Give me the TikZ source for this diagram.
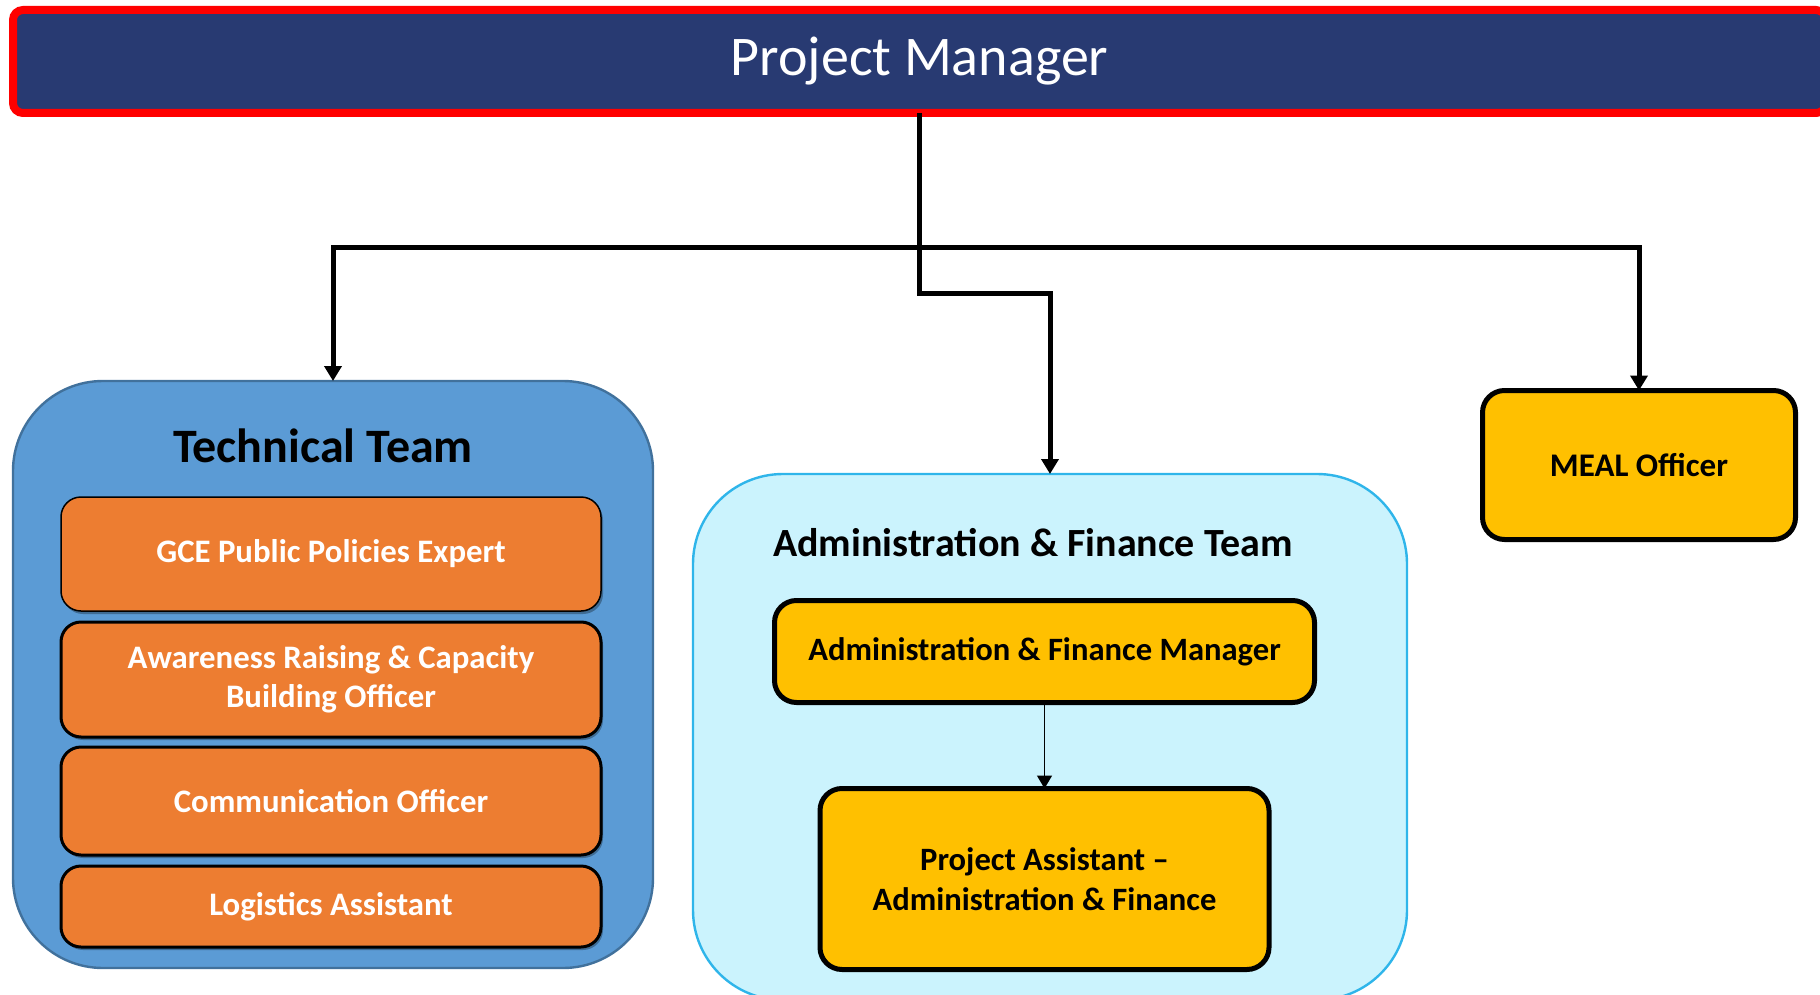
\documentclass[tikz,border=0pt]{standalone}
\usepackage{fontspec}
\setmainfont{Carlito}
\usepackage{tikz}
\usetikzlibrary{positioning, arrows.meta, shadows}

\definecolor{pmblue}{HTML}{283A72}
\definecolor{pmred}{HTML}{FF0000}
\definecolor{techblue}{HTML}{5B9BD5}
\definecolor{techline}{HTML}{41719C}
\definecolor{roleorange}{HTML}{ED7D31}
\definecolor{gold}{HTML}{FFC000}
\definecolor{adminfill}{HTML}{CBF3FD}
\definecolor{adminline}{HTML}{2FB5EA}

\begin{document}
\begin{tikzpicture}[x=0.5pt, y=-0.5pt,
    every node/.style={inner sep=0pt, outer sep=0pt, align=center},
    team/.style={rounded corners=45pt, line width=1.2pt},
    teamtitle/.style={anchor=base, font=\bfseries\fontsize{24}{28}\selectfont},
    role/.style={draw=black, fill=roleorange, rounded corners=10pt, line width=1.5pt,
        minimum width=270pt, text=white, font=\bfseries\fontsize{16.4}{19.75}\selectfont,
        drop shadow={shadow xshift=1pt, shadow yshift=-1.5pt, fill=black, opacity=0.3}},
    officer/.style={draw=black, fill=gold, rounded corners=11pt, line width=2.5pt,
        font=\bfseries\fontsize{16.3}{20}\selectfont},
    link/.style={line width=2.5pt},
    tip/.style={line width=2.5pt, -{Triangle[width=8.5pt,length=7.5pt]}},
    thintip/.style={line width=0.75pt, -{Triangle[width=7.5pt,length=6.5pt]}}]

    \useasboundingbox (0,0) rectangle (1820,995);

    \node[draw=pmred, fill=pmblue, line width=4pt, rounded corners=5pt,
        minimum width=906.5pt, minimum height=51.5pt, text=white,
        font=\fontsize{28}{34}\selectfont] (pm) at (919.5,61.5) {Project Manager};

    % technical team
    \node[team, fill=techblue, draw=techline, minimum width=320pt, minimum height=293.5pt] (tech) at (333,674.5) {};
    \node[teamtitle] (techtitle) at (323,462) {Technical Team};
    \node[role, line width=0.75pt, minimum height=57pt] (gce) at (331,554) {GCE Public Policies Expert};
    \node[role, minimum height=57.5pt, below=5.5pt of gce] (arcb) {Awareness Raising \& Capacity\\Building Officer};
    \node[role, minimum height=54pt, below=5pt of arcb] (comm) {Communication Officer};
    \node[role, minimum height=40.5pt, below=5.5pt of comm] (logi) {Logistics Assistant};

    % administration & finance team
    \node[team, fill=adminfill, draw=adminline, minimum width=357pt, minimum height=263pt] (admin) at (1050,737) {};
    \node[teamtitle, font=\bfseries\fontsize{20}{24}\selectfont] (admintitle) at (1033,556) {Administration \& Finance Team};
    \node[officer, minimum width=270pt, minimum height=51pt] (afm) at (1044.5,651.5) {Administration \& Finance Manager};
    \node[officer, minimum width=224.5pt, minimum height=90.5pt, below=43pt of afm] (pa) {Project Assistant --\\Administration \& Finance};

    \node[officer, minimum width=156.5pt, minimum height=74.5pt, font=\bfseries\fontsize{16.5}{20}\selectfont] (meal) at (1639,465) {MEAL Officer};

    \coordinate (busL) at (333,247);
    \coordinate (busR) at (1639,247);
    \coordinate (jog) at (1050,293);

    \draw[link, {Triangle[width=8.5pt,length=7.5pt]}-{Triangle[width=8.5pt,length=7.5pt]}]
        (tech.north) -- (busL) -- (busR) -- (meal.north);
    \draw[tip] (pm.south) |- (jog) -- (admin.north);
    \draw[thintip] (afm.south) -- (pa.north);
\end{tikzpicture}
\end{document}
